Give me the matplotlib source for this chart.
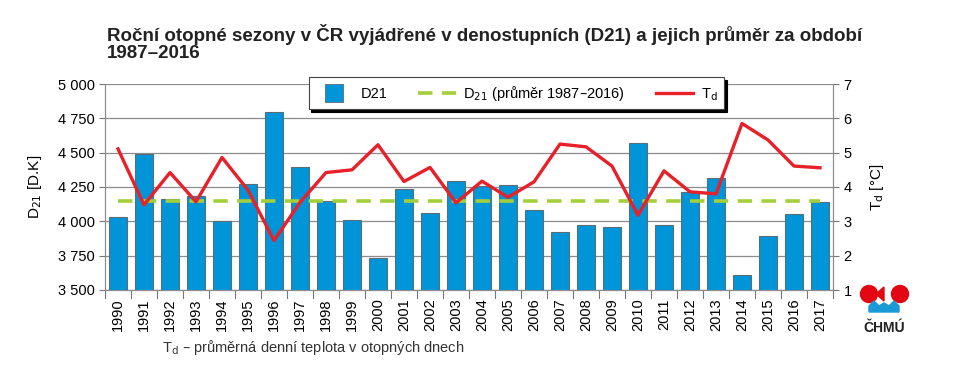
import matplotlib.pyplot as plt
from matplotlib.lines import Line2D
from matplotlib.patches import Ellipse, Polygon

plt.rcParams['font.family'] = ['Liberation Sans', 'DejaVu Sans']

years = list(range(1990, 2018))
d21 = [4029, 4488, 4160, 4187, 4002, 4269, 4794, 4398, 4150, 4012,
       3731, 4235, 4058, 4291, 4260, 4262, 4080, 3920, 3976, 3956,
       4570, 3973, 4211, 4316, 3612, 3893, 4056, 4141]
td = [5.11, 3.48, 4.42, 3.57, 4.86, 3.91, 2.44, 3.55, 4.42, 4.50,
      5.23, 4.16, 4.57, 3.54, 4.17, 3.70, 4.15, 5.25, 5.17, 4.61,
      3.18, 4.47, 3.86, 3.80, 5.85, 5.37, 4.61, 4.56]
d21_mean = 4150
left_ticks = [3500, 3750, 4000, 4250, 4500, 4750, 5000]
right_ticks = [1, 2, 3, 4, 5, 6, 7]

W, H = 976, 373
fig = plt.figure(figsize=(W / 100, H / 100), dpi=100)
ax = fig.add_axes([105 / W, 1 - 290 / H, 728 / W, 206 / H])
ax2 = ax.twinx()

x = list(range(len(years)))
ax.bar(x, d21, width=0.67, color='#0095d9', edgecolor='#5a6e78', linewidth=0.8, zorder=3)
mean_line, = ax.plot(x, [d21_mean] * len(x), color='#a4cf3c', lw=2.6, dashes=(4, 2.6),
                     label='D$_{21}$ (průměr 1987–2016)', zorder=4)
td_line, = ax2.plot(x, td, color='#e8202a', lw=2.4, label=r'T$_\mathrm{d}$', zorder=5)
bar_proxy = Line2D([], [], ls='none', marker='s', markersize=13, markerfacecolor='#0095d9',
                   markeredgecolor='#5a6e78', markeredgewidth=0.6, label='D21')

ax.set_ylim(3500, 5000)
ax.set_yticks(left_ticks)
ax.set_yticklabels(['{:,}'.format(v).replace(',', ' ') for v in left_ticks], fontsize=10.5)
ax.set_xlim(-0.5, len(x) - 0.5)
ax.set_xticks(x)
ax.set_xticklabels([str(y) for y in years], rotation=90, fontsize=10.5)
ax.tick_params(axis='x', length=0, pad=6)
for i in range(len(x) + 1):
    ax.plot([i - 0.5, i - 0.5], [3500, 3500 - 60], color='#777777', lw=0.8,
            clip_on=False, zorder=2)
ax.tick_params(axis='y', length=4, color='#777777')
ax.grid(axis='y', color='#8c8c8c', lw=0.9, zorder=0)
ax.set_axisbelow(True)
ax.spines['top'].set_visible(False)
ax2.spines['top'].set_visible(False)
for a in (ax, ax2):
    for s in ['left', 'right', 'bottom']:
        a.spines[s].set_color('#8c8c8c')
ax.set_ylabel('D$_{21}$ [D.K]', fontsize=11, labelpad=10)

ax2.set_ylim(1, 7)
ax2.set_yticks(right_ticks)
ax2.tick_params(axis='y', length=4, color='#777777', labelsize=10.5)
ax2.set_ylabel(r'T$_\mathrm{d}$ [°C]', fontsize=11, labelpad=12)

leg = ax.legend(handles=[bar_proxy, mean_line, td_line], loc='upper center',
                bbox_to_anchor=(0.565, 1.068), ncol=3, frameon=True, fancybox=False,
                shadow={'color': 'black', 'alpha': 1}, fontsize=10.5, handlelength=2.6,
                columnspacing=2.1, handletextpad=0.5, borderpad=0.45,
                edgecolor='#444444')
leg.get_frame().set_linewidth(0.8)
leg.set_zorder(10)

fig.text(107 / W, 0.885, 'Roční otopné sezony v ČR vyjádřené v denostupních (D21) a jejich průměr za období\n1987–2016',
         fontsize=13.5, fontweight='bold', color='#222222', va='center', linespacing=1.05)
fig.text(162 / W, 1 - 352 / H, r'T$_\mathrm{d}$ – průměrná denní teplota v otopných dnech',
         fontsize=10.5, color='#333333')


# logo CHMU
def fx(px):
    return px / W


def fy(py):
    return 1 - py / H


for cx in (869, 900):
    fig.patches.append(Ellipse((fx(cx), fy(294)), 17 / W, 17 / H, transform=fig.transFigure,
                               color='#e30613', figure=fig))
fig.patches.append(Polygon([(fx(876), fy(294)), (fx(884), fy(287)), (fx(884), fy(301))],
                           closed=True, transform=fig.transFigure, color='#e30613', figure=fig))
wave = [(869, 312), (869, 306), (874, 301), (879, 306), (884, 303), (889, 306), (894, 301),
        (899, 306), (899, 312)]
fig.patches.append(Polygon([(fx(a), fy(b)) for a, b in wave], closed=True,
                           transform=fig.transFigure, color='#1a9ad6', figure=fig))
fig.text(fx(884), fy(328), 'ČHMÚ', fontsize=10, color='#222222', ha='center', va='center',
         fontweight='bold')

fig.savefig('out.png', dpi=100)
